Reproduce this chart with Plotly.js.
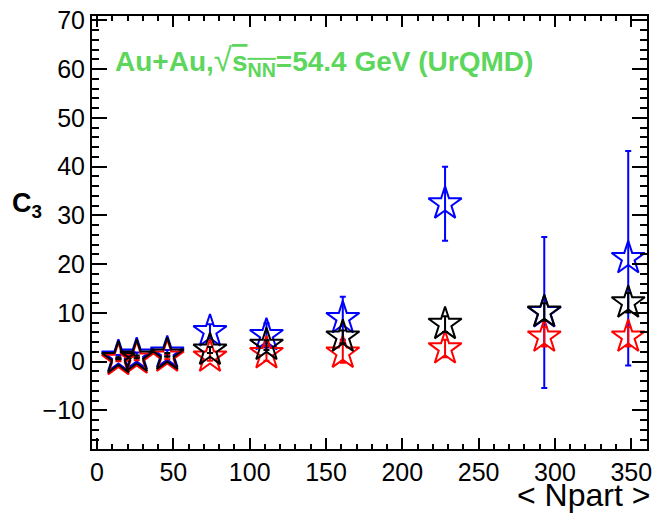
<!DOCTYPE html>
<html>
<head>
<meta charset="utf-8">
<script src="https://cdn.plot.ly/plotly-3.0.1.min.js"></script>
<style>html,body{margin:0;padding:0;background:#fff;}#chart{width:654px;height:514px;}</style>
</head>
<body>
<div id="chart"></div>
<script>
const npart = [14, 26, 46, 74, 111, 161, 228, 293, 348];
const c3Blue = [1.0, 1.4, 1.8, 6.2, 5.4, 8.9, 32.4, 10.1, 21.2];
const c3BlueErr = [0.4, 0.5, 0.6, 1.5, 2.5, 4.4, 7.6, 15.5, 22.0];
const c3Black = [0.7, 1.0, 1.4, 2.4, 3.4, 5.1, 7.7, 10.2, 12.1];
const c3BlackErr = [0.2, 0.3, 0.4, 0.6, 1.0, 1.3, 1.6, 1.8, 2.0];
const c3Red = [0.3, 0.6, 1.0, 1.0, 1.7, 1.8, 2.7, 5.1, 5.1];
const c3RedErr = [0.2, 0.3, 0.5, 0.8, 1.5, 2.0, 1.8, 2.0, 2.0];
const xTicks = [0, 50, 100, 150, 200, 250, 300, 350];
const yTicks = [-10, 0, 10, 20, 30, 40, 50, 60, 70];

function series(y, err, color) {
  return {
    x: npart, y: y, type: 'scatter', mode: 'markers',
    marker: {symbol: 'star-open', size: 25, color: color, line: {color: color, width: 2}},
    error_y: {type: 'data', array: err, visible: true, color: color, thickness: 2, width: 3},
    hoverinfo: 'x+y', showlegend: false
  };
}

const data = [
  series(c3Blue, c3BlueErr, '#0000ff'),
  series(c3Red, c3RedErr, '#ff0000'),
  series(c3Black, c3BlackErr, '#000000')
];

const fontFam = 'Liberation Sans, Arial, Helvetica, sans-serif';
const layout = {
  width: 654, height: 514,
  margin: {l: 92, r: 7, t: 16, b: 65},
  paper_bgcolor: '#fff', plot_bgcolor: '#fff',
  showlegend: false,
  font: {family: fontFam, color: '#000', size: 25},
  xaxis: {
    range: [-3.3, 360.3], tickvals: xTicks, ticktext: xTicks.map(String),
    ticks: 'inside', ticklen: 11, tickwidth: 2, tickcolor: '#000',
    minor: {dtick: 10, tick0: 0, ticks: 'inside', ticklen: 5, tickwidth: 2, tickcolor: '#000'},
    showline: true, linecolor: '#000', linewidth: 2, mirror: 'allticks',
    showgrid: false, zeroline: false,
    tickfont: {family: fontFam, size: 25, color: '#000'}
  },
  yaxis: {
    range: [-17.9, 70.9], tickvals: yTicks, ticktext: yTicks.map(v => v < 0 ? '\u2212' + Math.abs(v) : String(v)),
    ticks: 'inside', ticklen: 15, tickwidth: 2, tickcolor: '#000',
    minor: {dtick: 2, tick0: 0, ticks: 'inside', ticklen: 7, tickwidth: 2, tickcolor: '#000'},
    showline: true, linecolor: '#000', linewidth: 2, mirror: 'allticks',
    showgrid: false, zeroline: false,
    tickfont: {family: fontFam, size: 25, color: '#000'}
  },
  annotations: [
    {xref: 'paper', yref: 'paper', x: (113 - 92) / 555, y: (449 - 61) / 433, xanchor: 'left', yanchor: 'middle',
     text: '<b>Au+Au,<span style="font-size:33px;font-weight:normal">√</span><span style="text-decoration:overline">s<sub>NN</sub></span>=54.4 GeV (UrQMD)</b>',
     showarrow: false, font: {family: fontFam, size: 28, color: '#5cd65c'}},
    {xref: 'paper', yref: 'paper', x: (27 - 92) / 555, y: (449 - 205) / 433, xanchor: 'center', yanchor: 'middle',
     text: '<b>C<sub>3</sub></b>', showarrow: false, font: {family: fontFam, size: 27, color: '#000'}},
    {xref: 'paper', yref: 'paper', x: (652 - 92) / 555, y: (449 - 495) / 433, xanchor: 'right', yanchor: 'middle',
     text: '&lt; Npart &gt;', showarrow: false, font: {family: fontFam, size: 32, color: '#000'}}
  ]
};

Plotly.newPlot('chart', data, layout, {displayModeBar: false, staticPlot: true});
</script>
</body>
</html>
